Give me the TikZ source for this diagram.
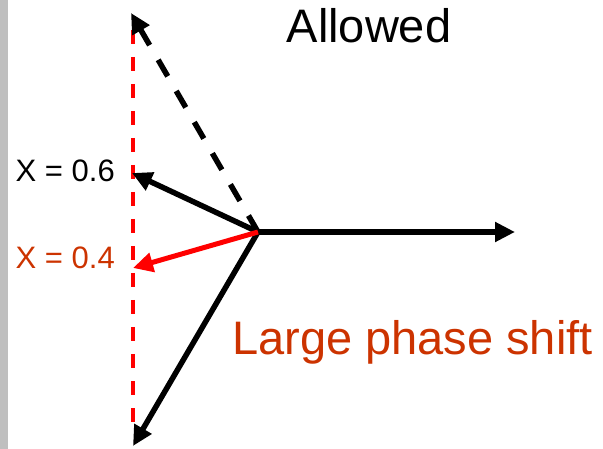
\documentclass[tikz,border=0pt]{standalone}
\usepackage{fontspec}
\setmainfont{Liberation Sans}
\usetikzlibrary{arrows.meta}
\definecolor{labelred}{HTML}{CC3300}

\begin{document}
\begin{tikzpicture}[x=1pt, y=-1pt,
		vec/.style = {line width = 5.5pt, -{Triangle[length = 20pt, width = 19pt]}},
		lbl/.style = {inner sep = 0pt, font = \fontsize{31}{31}\selectfont}]
			\useasboundingbox (0,0) rectangle (603,449);
			\fill[gray!50] (0,0) rectangle (8,449);
			
			\coordinate (o) at (258,232);
			\coordinate (right) at (515,232);
			\coordinate (up) at (131,13);
			\coordinate (six) at (132,173);
			\coordinate (four) at (133,268);
			\coordinate (down) at (133,446);
			\coordinate (top) at (133,30);
			\coordinate (bot) at (133,425);
			
			\draw[red, line width = 3.5pt, dash pattern = on 14pt off 13pt] (top) -- (bot);
			
			\draw[vec, dash pattern = on 19pt off 17pt] (o) -- (up);
			\draw[vec] (o) -- (right);
			\draw[vec] (o) -- (six);
			\draw[vec] (o) -- (down);
			\draw[vec, red, line width = 5pt] (o) -- (four);
			
			\node[lbl, anchor = base east] (xsix) at (115,182) {X = 0.6};
			\node[lbl, anchor = base east, text = labelred] (xfour) at (115,269) {X = 0.4};
			\node[lbl, anchor = base, font = \fontsize{47}{47}\selectfont] (allowed) at (369,43) {Allowed};
			\node[lbl, anchor = base west, text = labelred, font = \fontsize{47}{47}\selectfont] (shift) at (232,355) {Large phase shift};
		\end{tikzpicture}
\end{document}
